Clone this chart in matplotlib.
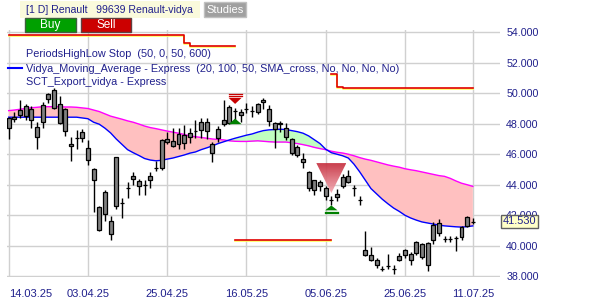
import numpy as np
import matplotlib
matplotlib.use('Agg')
import matplotlib.pyplot as plt
from matplotlib.patches import Polygon, Rectangle
from matplotlib.colors import LinearSegmentedColormap

plt.rcParams['font.family'] = ['Liberation Sans', 'DejaVu Sans']

# Renault daily bars, 14.03.25 .. 11.07.25
opens = [47.73, 48.30, 48.60, 49.17, 48.23, 47.78, 48.10, 49.60, 50.20, 49.28,
         49.00, 46.66, 47.05, 47.05, 46.40, 45.03, 42.51, 42.10, 41.64, 42.58,
         42.80, 43.76, 44.37, 44.26, 43.98, 44.28, 45.10, 45.10, 47.00, 46.88,
         46.68, 47.27, 47.12, 47.53, 47.60, 48.14, 46.66, 47.05, 47.97, 48.04,
         48.84, 48.76, 48.97, 48.86, 48.76, 49.41, 48.97, 48.08, 47.97, 47.75,
         47.00, 46.50, 45.68, 44.83, 43.63, 44.21, 43.78, 43.02, 43.19, 43.89,
         44.55, 43.78, 43.02, 39.74, 39.42, 39.05, 38.50, 38.65, 38.48, 39.09,
         39.37, 39.48, 39.53, 40.14, 38.76, 40.35, 41.49, 40.44, 40.44, 40.50,
         40.57, 41.32, 41.53]
highs = [48.47, 48.80, 49.56, 49.28, 49.19, 48.10, 49.45, 50.00, 50.35, 49.82,
         49.06, 47.10, 47.60, 47.68, 46.94, 45.13, 42.60, 43.67, 41.93, 45.85,
         43.13, 44.20, 44.83, 44.37, 44.33, 44.83, 45.57, 47.00, 47.49, 47.71,
         47.75, 47.92, 47.70, 48.25, 48.36, 48.36, 46.79, 47.82, 49.56, 49.23,
         49.06, 48.97, 49.35, 49.19, 49.35, 49.71, 49.23, 48.14, 48.19, 48.04,
         47.05, 46.62, 46.07, 44.92, 44.33, 44.33, 43.89, 43.28, 43.72, 44.70,
         44.98, 43.99, 43.23, 40.94, 39.92, 39.20, 38.65, 39.48, 38.76, 39.53,
         39.79, 39.57, 40.29, 40.18, 40.22, 41.56, 41.75, 40.66, 40.66, 40.62,
         41.32, 41.97, 41.79]
lows = [47.00, 48.14, 48.38, 48.25, 47.70, 46.34, 47.75, 49.35, 49.00, 47.97,
        47.22, 45.57, 46.35, 46.80, 45.30, 42.20, 40.94, 41.60, 40.40, 42.40,
        41.82, 43.13, 44.00, 43.34, 43.30, 43.78, 44.92, 44.94, 46.66, 46.50,
        46.35, 46.34, 46.73, 47.05, 47.05, 47.00, 45.48, 46.83, 47.82, 47.99,
        48.04, 48.10, 48.69, 48.43, 48.65, 48.97, 47.88, 46.40, 47.49, 46.94,
        45.96, 45.81, 45.09, 43.56, 43.34, 43.56, 42.97, 42.69, 42.91, 43.78,
        44.11, 43.28, 42.69, 39.35, 38.98, 38.55, 38.33, 38.50, 38.17, 38.98,
        39.20, 38.76, 39.37, 39.14, 38.33, 40.14, 40.66, 40.22, 40.22, 39.64,
        40.35, 41.23, 41.45]
closes = [48.38, 48.43, 48.90, 48.53, 49.00, 47.16, 49.23, 49.93, 49.06, 48.04,
          47.55, 46.57, 47.05, 47.45, 45.60, 44.28, 41.00, 43.52, 40.79, 45.81,
          42.80, 43.76, 44.59, 43.93, 43.98, 44.59, 45.10, 46.94, 46.83, 46.55,
          47.32, 46.73, 47.38, 47.53, 48.14, 47.55, 46.07, 47.64, 48.25, 49.08,
          48.84, 48.58, 48.97, 48.86, 49.28, 49.56, 48.21, 47.64, 48.08, 47.12,
          46.07, 45.96, 45.46, 43.78, 44.28, 43.89, 43.23, 43.02, 43.41, 44.50,
          44.15, 43.78, 43.02, 39.42, 39.09, 38.72, 38.50, 38.65, 38.48, 39.35,
          39.70, 39.09, 40.22, 39.27, 40.18, 41.38, 40.84, 40.44, 40.44, 40.50,
          41.23, 41.88, 41.53]

# Vidya moving average (blue) and its reference average (magenta)
vidya = [48.43, 48.43, 48.43, 48.43, 48.43, 48.43, 48.43, 48.43, 48.43, 48.43,
         48.43, 48.43, 48.43, 48.38, 48.33, 48.10, 47.97, 47.71, 47.40, 47.00,
         46.65, 46.30, 46.10, 45.92, 45.72, 45.62, 45.57, 45.60, 45.68, 45.75,
         45.85, 45.95, 46.07, 46.15, 46.30, 46.42, 46.55, 46.70, 46.82, 46.94,
         47.05, 47.15, 47.25, 47.33, 47.45, 47.55, 47.60, 47.62, 47.64, 47.62,
         47.55, 47.48, 47.38, 47.20, 46.95, 46.70, 46.33, 46.10, 46.00, 45.90,
         45.75, 45.35, 44.85, 44.30, 43.75, 43.40, 43.05, 42.75, 42.47, 42.25,
         42.00, 41.82, 41.68, 41.56, 41.49, 41.42, 41.35, 41.30, 41.27, 41.24,
         41.22, 41.25, 41.30]
sma = [48.86, 48.90, 48.95, 49.00, 49.05, 49.08, 49.12, 49.12, 49.12, 49.12,
       49.10, 49.10, 49.08, 49.04, 49.00, 48.90, 48.80, 48.65, 48.50, 48.40,
       48.30, 48.19, 48.10, 47.98, 47.85, 47.75, 47.68, 47.60, 47.52, 47.45,
       47.38, 47.30, 47.20, 47.15, 47.10, 47.05, 47.00, 46.97, 46.94, 46.88,
       46.85, 46.84, 46.84, 46.86, 46.88, 46.85, 46.82, 46.80, 46.80, 46.80,
       46.75, 46.70, 46.63, 46.55, 46.45, 46.37, 46.30, 46.20, 46.13, 46.08,
       46.00, 45.90, 45.78, 45.68, 45.60, 45.50, 45.40, 45.30, 45.22, 45.15,
       45.05, 44.98, 44.92, 44.84, 44.76, 44.68, 44.60, 44.55, 44.42, 44.25,
       44.10, 44.00, 43.89]

# PeriodsHighLow stop segments (bar index, level)
stop_a_idx = [0, 31, 32, 40]
stop_a_val = [53.82, 53.31, 53.10, 53.10]
stop_b_idx = [57, 58, 59, 82]
stop_b_val = [51.24, 50.39, 50.33, 50.33]
stop_c_idx = [40, 57]
stop_c_val = [40.40, 40.40]

# signals
sell_idx = [40, 57]
sell_top = [49.70, 45.42]
buy_idx = [40, 57]
buy_base = [47.97, 42.32]

date_pos = [0, 14, 28, 42, 56, 70, 82]
date_labels = ['14.03.25', '03.04.25', '25.04.25', '16.05.25', '05.06.25', '25.06.25', '11.07.25']
price_ticks = [38, 40, 42, 44, 46, 48, 50, 52, 54]
last_price = 41.53

navy = '#20208c'

fig = plt.figure(figsize=(6, 3), dpi=100)
fig.patch.set_facecolor('white')
ax = fig.add_axes([7 / 600, 1 - 276.5 / 300, 493 / 600, 246.5 / 300])
for s in ax.spines.values():
    s.set_visible(False)

x = np.arange(len(closes))

# grid
for p in price_ticks:
    ax.axhline(p, color='#d0d0d0', lw=1, zorder=0)
for d in date_pos:
    ax.axvline(d, color='#d0d0d0', lw=1, zorder=0)

# band between the two averages
v = np.array(vidya)
m = np.array(sma)
ax.fill_between(x, v, m, where=m >= v, interpolate=True, color='#ffc0c0', lw=0, zorder=1)
ax.fill_between(x, v, m, where=v >= m, interpolate=True, color='#c0ffc0', lw=0, zorder=1)
ax.plot(x, m, color='#ff00ff', lw=1, zorder=2)
ax.plot(x, v, color='#0000ff', lw=1, zorder=2)

# candles
o = np.array(opens)
c = np.array(closes)
ax.vlines(x, lows, highs, color='black', lw=1, zorder=3)
ax.bar(x, np.abs(c - o), bottom=np.minimum(o, c), width=0.7,
       color='#808080', edgecolor='black', lw=0.9, zorder=4)

# stop lines (yellow shadow under red)
for si, sv in [(stop_a_idx, stop_a_val), (stop_b_idx, stop_b_val), (stop_c_idx, stop_c_val)]:
    ax.plot(si, np.array(sv) - 0.07, drawstyle='steps-post', color='#ffff60', lw=1.2, zorder=5)
    ax.plot(si, sv, drawstyle='steps-post', color='#e00000', lw=1.2, zorder=6)

# small sell / buy markers
i0, t0 = sell_idx[0], sell_top[0]
ax.add_patch(Polygon([(i0 - 1.15, t0), (i0 + 1.15, t0), (i0, t0 - 0.4)], color='#c80000', lw=0, zorder=7))
for off in (0.12, 0.23):
    ax.plot([i0 - 1.15, i0 + 1.15], [t0 + off, t0 + off], color='#c80000', lw=0.9, zorder=7)
b0, bb0 = buy_idx[0], buy_base[0]
ax.add_patch(Polygon([(b0 - 1.15, bb0), (b0 + 1.15, bb0), (b0, bb0 + 0.37)], color='#008000', lw=0, zorder=7))

# big sell marker with gradient
i1, t1 = sell_idx[1], sell_top[1]
tri = Polygon([(i1 - 2.65, t1), (i1 + 2.65, t1), (i1, t1 - 1.97)], facecolor='none', edgecolor='none')
ax.add_patch(tri)
cmap = LinearSegmentedColormap.from_list('g', ['#c42a3a', '#f2aab2'])
grad = np.linspace(0, 1, 64).reshape(-1, 1)
im = ax.imshow(grad, extent=(i1 - 2.65, i1 + 2.65, t1 - 1.97, t1), cmap=cmap,
               aspect='auto', alpha=0.92, zorder=7)
im.set_clip_path(tri)

b1, bb1 = buy_idx[1], buy_base[1]
ax.add_patch(Polygon([(b1 - 1.1, bb1), (b1 + 1.1, bb1), (b1, bb1 + 0.32)], color='#008000', lw=0, zorder=7))
for off in (0.08, 0.17):
    ax.plot([b1 - 1.1, b1 + 1.1], [bb1 - off, bb1 - off], color='#008000', lw=0.9, zorder=7)

ax.set_xlim(-0.3, 86.8)
ax.set_ylim(37.98, 54.15)

# axes labels
ax.yaxis.tick_right()
ax.set_yticks(price_ticks)
ax.set_yticklabels(['%.3f' % p for p in price_ticks])
ax.tick_params(axis='y', length=0, pad=4.5, labelsize=7.7, labelcolor=navy)
ax.set_xticks(date_pos)
ax.set_xticklabels(date_labels)
ax.tick_params(axis='x', length=0, pad=9, labelsize=8, labelcolor=navy)
ax.get_xticklabels()[0].set_ha('left')

ax.text(1 + 3 / 493, last_price + 0.07, '%.3f' % last_price, transform=ax.get_yaxis_transform(),
        fontsize=7.9, color=navy, va='center', ha='left', zorder=10,
        bbox=dict(boxstyle='square,pad=0.15', fc='#ffffc8', ec='#606060', lw=1))


def px(xp, yp):
    return xp / 600, 1 - yp / 300


# header
fig.patches.append(Rectangle(px(20, 17.5), 180 / 600, 16 / 300, transform=fig.transFigure,
                             fc='#fafadc', ec='none', zorder=0))
fig.text(*px(26, 10), '[1 D] Renault   99639 Renault-vidya', fontsize=7.6, color=navy, va='center')
fig.patches.append(Rectangle(px(204, 17), 42 / 600, 15 / 300, transform=fig.transFigure,
                             fc='#a0a0a0', ec='#c0c0c0', lw=1))
fig.text(*px(225, 10), 'Studies', fontsize=8.0, color='white', va='center', ha='center')
fig.patches.append(Rectangle(px(25, 32), 51 / 600, 14 / 300, transform=fig.transFigure,
                             fc='#00a000', ec='#406040', lw=1))
fig.text(*px(50.5, 25), 'Buy', fontsize=8.5, color='white', va='center', ha='center')
fig.patches.append(Rectangle(px(81, 32), 50 / 600, 14 / 300, transform=fig.transFigure,
                             fc='#cc0000', ec='#604040', lw=1))
fig.text(*px(106, 25), 'Sell', fontsize=8.5, color='white', va='center', ha='center')

# legend lines
fig.text(*px(26, 54), 'PeriodsHighLow Stop  (50, 0, 50, 600)', fontsize=7.85, color=navy, va='center')
fig.add_artist(plt.Line2D([8 / 600, 22 / 600], [1 - 68.5 / 300] * 2, color='#0000ff', lw=1.5))
fig.text(*px(26, 69), 'Vidya_Moving_Average - Express  (20, 100, 50, SMA_cross, No, No, No, No)',
         fontsize=7.85, color=navy, va='center')
fig.text(*px(26, 82), 'SCT_Export_vidya - Express', fontsize=7.85, color=navy, va='center')

plt.savefig('out.png', dpi=100)
